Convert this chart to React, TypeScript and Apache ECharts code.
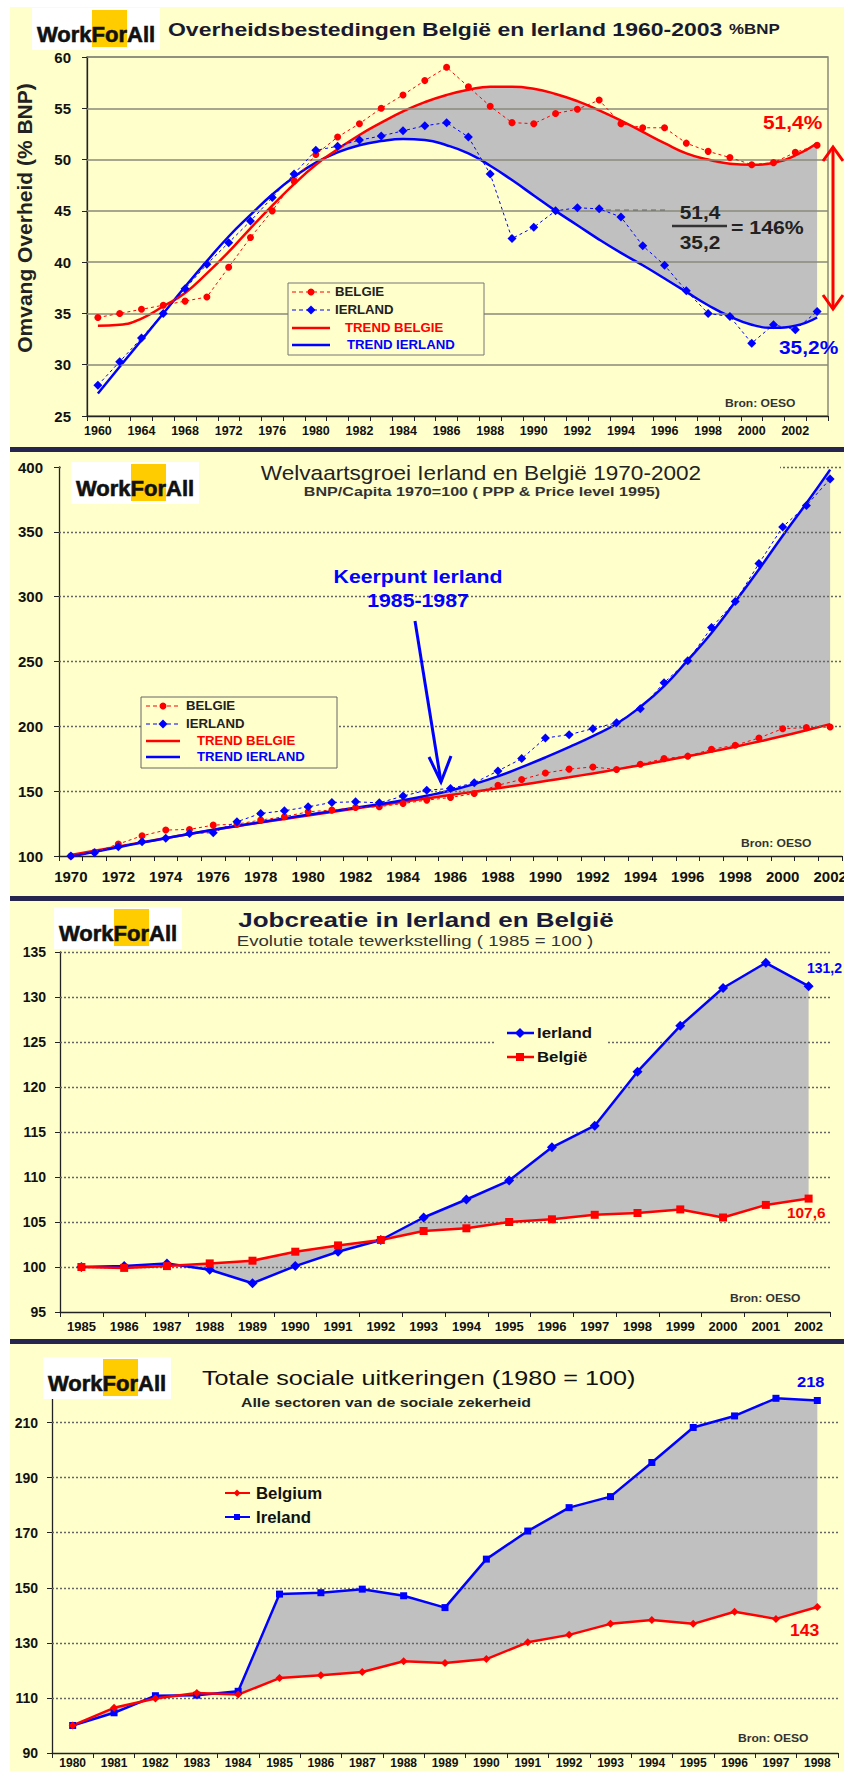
import React, { useEffect, useRef } from 'react';
import * as echarts from 'echarts';

const FONT = '"Liberation Sans", Arial, Helvetica, sans-serif';
const YELLOW = '#FFFFCC';
const GRAY = '#C0C0C0';
const RED = '#FF0000';
const BLUE = '#0000FF';

// ---------- Panel 1: Overheidsbestedingen (% BNP) ----------
const p1Years = ['1960', '1962', '1964', '1966', '1968', '1970', '1972', '1974', '1976', '1978', '1980', '1981', '1982', '1983', '1984', '1985', '1986', '1987', '1988', '1989', '1990', '1991', '1992', '1993', '1994', '1995', '1996', '1997', '1998', '1999', '2000', '2001', '2002', '2003'];
const p1Belgie = [34.6, 35.0, 35.4, 35.8, 36.2, 36.6, 39.5, 42.4, 45.0, 47.9, 50.5, 52.2, 53.5, 55.0, 56.3, 57.7, 59.0, 57.1, 55.2, 53.6, 53.5, 54.5, 54.9, 55.8, 53.5, 53.1, 53.1, 51.6, 50.8, 50.2, 49.5, 49.7, 50.7, 51.4];
const p1Ierland = [28.0, 30.3, 32.6, 35.0, 37.4, 39.8, 41.9, 44.0, 46.3, 48.6, 50.9, 51.3, 51.9, 52.3, 52.8, 53.3, 53.6, 52.2, 48.6, 42.3, 43.4, 45.0, 45.3, 45.2, 44.4, 41.6, 39.7, 37.2, 35.0, 34.7, 32.1, 33.9, 33.4, 35.2];
const p1TrendBelgie = [33.8, 33.9, 34.5, 35.7, 37.0, 38.9, 41.0, 43.3, 45.5, 47.6, 49.5, 51.0, 52.4, 53.6, 54.7, 55.6, 56.3, 56.8, 57.1, 57.1, 56.9, 56.4, 55.7, 54.8, 53.8, 52.7, 51.6, 50.6, 50.0, 49.6, 49.5, 49.7, 50.4, 51.6];
const p1TrendIerland = [27.2, 29.8, 32.4, 35.0, 37.6, 40.1, 42.5, 44.6, 46.6, 48.3, 49.7, 50.7, 51.4, 51.8, 52.0, 51.9, 51.4, 50.6, 49.4, 48.0, 46.5, 45.0, 43.6, 42.2, 40.9, 39.7, 38.4, 37.1, 35.8, 34.7, 33.9, 33.6, 33.8, 34.6];
const p1GridLines = [30, 35, 40, 45, 50, 55, 60];
const p1FillFrom = 10;

// ---------- Panel 2: Welvaartsgroei ----------
const p2Years = ['1970', '1971', '1972', '1973', '1974', '1975', '1976', '1977', '1978', '1979', '1980', '1981', '1982', '1983', '1984', '1985', '1986', '1987', '1988', '1989', '1990', '1991', '1992', '1993', '1994', '1995', '1996', '1997', '1998', '1999', '2000', '2001', '2002'];
const p2Belgie = [100, 103, 109.2, 115.6, 120, 120.5, 123.8, 124.6, 127.7, 130.3, 134.1, 135.4, 137.4, 138, 140.5, 143.1, 145.1, 148.2, 154.6, 159, 164, 167, 168.7, 166.7, 170.8, 175.1, 177, 182.3, 185.4, 191, 198.2, 199, 199.5];
const p2Ierland = [100, 102.6, 107.2, 111, 113.6, 117.4, 118, 126.4, 132.8, 134.9, 137.9, 141.3, 141.8, 141, 146.2, 150.8, 152, 156.4, 165.6, 175.1, 191, 193.6, 198.2, 202.8, 213.6, 233.6, 250.5, 276.2, 296.2, 325.6, 353.8, 370.3, 390.8];
const p2TrendBelgie = [100.8, 104, 107.3, 110.6, 113.8, 117, 120, 123, 125.8, 128.6, 131.3, 134, 136.6, 139.2, 141.8, 144.4, 147, 149.6, 152.3, 155, 157.8, 160.7, 163.7, 166.8, 170, 173.4, 176.9, 180.5, 184.3, 188.3, 192.5, 197, 201.7];
const p2TrendIerland = [99.5, 103.2, 106.8, 110.3, 113.7, 117, 120.2, 123.2, 126.1, 129, 131.8, 134.5, 137.2, 140, 143, 146.5, 150.5, 155.5, 161.5, 168.5, 176, 184, 192.5, 202, 215, 231, 251, 272, 296, 321, 347, 372, 398];
const p2GridLines = [150, 200, 250, 300, 350, 400];
const p2FillFrom = 13;

// ---------- Panel 3: Jobcreatie ----------
const p3Years = ['1985', '1986', '1987', '1988', '1989', '1990', '1991', '1992', '1993', '1994', '1995', '1996', '1997', '1998', '1999', '2000', '2001', '2002'];
const p3Ierland = [100, 100.1, 100.4, 99.7, 98.2, 100.1, 101.7, 103.0, 105.5, 107.5, 109.6, 113.3, 115.7, 121.7, 126.8, 131.0, 133.8, 131.2];
const p3Belgie = [100, 99.9, 100.1, 100.4, 100.7, 101.7, 102.4, 103.0, 104.0, 104.3, 105.0, 105.3, 105.8, 106.0, 106.4, 105.5, 106.9, 107.6];
const p3GridLines = [100, 105, 110, 115, 120, 125, 130, 135];

// ---------- Panel 4: Sociale uitkeringen ----------
const p4Years = ['1980', '1981', '1982', '1983', '1984', '1985', '1986', '1987', '1988', '1989', '1990', '1991', '1992', '1993', '1994', '1995', '1996', '1997', '1998'];
const p4Belgium = [100, 106.4, 109.8, 111.8, 111.2, 117.2, 118.2, 119.4, 123.3, 122.7, 124.1, 130.2, 132.9, 136.9, 138.3, 136.9, 141.3, 138.7, 143];
const p4Ireland = [100, 104.6, 110.8, 111, 112.4, 147.7, 148.2, 149.5, 147.1, 142.8, 160.4, 170.6, 179.1, 183.1, 195.5, 208.2, 212.4, 218.8, 218];
const p4GridLines = [110, 130, 150, 170, 190, 210];

const fmt1 = (v: number) => v.toFixed(1).replace('.', ',');

function txt(x: number, y: number, text: string, size: number, color = '#111', weight = 'bold', align = 'left', sx = 1, extra: any = {}) {
  return {
    type: 'text', x, y, z: 120, silent: true, scaleX: sx,
    style: { text, fill: color, font: `${weight} ${size}px ${FONT}`, textAlign: align, textVerticalAlign: 'middle', align, verticalAlign: 'middle' },
    ...extra,
  };
}
function ln(x1: number, y1: number, x2: number, y2: number, color: string, w: number, dash?: number[]) {
  return { type: 'line', z: 110, silent: true, shape: { x1, y1, x2, y2 }, style: { stroke: color, lineWidth: w, lineDash: dash } };
}
function poly(points: number[][], color: string, w: number) {
  return { type: 'polyline', z: 110, silent: true, shape: { points }, style: { stroke: color, lineWidth: w, fill: 'none' } };
}
function diamond(cx: number, cy: number, r: number, color: string) {
  return { type: 'polygon', z: 112, silent: true, shape: { points: [[cx, cy - r], [cx + r, cy], [cx, cy + r], [cx - r, cy]] }, style: { fill: color } };
}
function dot(cx: number, cy: number, r: number, color: string) {
  return { type: 'circle', z: 112, silent: true, shape: { cx, cy, r }, style: { fill: color } };
}
function square(cx: number, cy: number, r: number, color: string) {
  return { type: 'rect', z: 112, silent: true, shape: { x: cx - r, y: cy - r, width: 2 * r, height: 2 * r }, style: { fill: color } };
}
function rect(x: number, y: number, w: number, h: number, fill: string, stroke?: string, z = 100) {
  return { type: 'rect', z, silent: true, shape: { x, y, width: w, height: h }, style: { fill, stroke: stroke || 'none', lineWidth: 1 } };
}
function logo(x: number, y: number) {
  return [
    rect(x, y, 128, 42, '#FFFFFF', undefined, 101),
    rect(x + 60, y + 2, 35, 37, '#FFCC00', undefined, 102),
    { type: 'text', x: x + 5, y: y + 26, z: 103, silent: true, style: { text: 'WorkForAll', fill: '#111', stroke: '#111', lineWidth: 0.6, font: `bold 22px ${FONT}`, textAlign: 'left', textVerticalAlign: 'middle', align: 'left', verticalAlign: 'middle' } },
  ];
}

function xCat(idx: number, data: string[], size: number, labelInterval: number, margin: number) {
  return {
    type: 'category', gridIndex: idx, data, boundaryGap: true,
    axisLine: { show: true, lineStyle: { color: '#222', width: 1.3 } },
    axisTick: { show: true, interval: 0, length: 5, lineStyle: { color: '#222', width: 1 } },
    axisLabel: { interval: labelInterval, color: '#111', fontWeight: 'bold', fontSize: size, fontFamily: FONT, margin },
    splitLine: { show: false },
  };
}
function yVal(idx: number, min: number, max: number, interval: number, size: number, margin: number, extra: any = {}) {
  return {
    type: 'value', gridIndex: idx, min, max, interval,
    axisLine: { show: true, lineStyle: { color: '#222', width: 1.3 } },
    axisTick: { show: true, length: 5, lineStyle: { color: '#222' } },
    axisLabel: { color: '#111', fontWeight: 'bold', fontSize: size, fontFamily: FONT, margin, ...extra },
    splitLine: { show: false },
  };
}
function gridLineSeries(idx: number, vals: number[], n: number, dotted: boolean) {
  return {
    type: 'line', xAxisIndex: idx, yAxisIndex: idx, data: new Array(n).fill('-'), silent: true, z: 3, symbol: 'none',
    markLine: {
      silent: true, symbol: ['none', 'none'], label: { show: false }, animation: false,
      lineStyle: dotted ? { color: '#666', width: 1.3, type: [2, 2] } : { color: '#8a8a7a', width: 1.5, type: 'solid' },
      emphasis: { disabled: true },
      data: vals.map((v) => ({ yAxis: v })),
    },
  };
}
function fillBetween(idx: number, a: number[], b: number[]) {
  return {
    type: 'custom', xAxisIndex: idx, yAxisIndex: idx, silent: true, z: 1, clip: true,
    data: [[0, a[0]]],
    renderItem: (_p: any, api: any) => {
      const pts: number[][] = [];
      for (let i = 0; i < a.length; i++) pts.push(api.coord([i, a[i]]));
      for (let i = b.length - 1; i >= 0; i--) pts.push(api.coord([i, b[i]]));
      return { type: 'polygon', shape: { points: pts }, style: { fill: GRAY } };
    },
  };
}
function trend(idx: number, data: any[], color: string, stack?: string) {
  return { type: 'line', xAxisIndex: idx, yAxisIndex: idx, data, smooth: true, symbol: 'none', stack, lineStyle: { color, width: 2.5 }, z: 4, silent: true };
}
function diffArea(idx: number, top: number[], base: number[], from: number, stack: string) {
  const d = top.map((v, i) => (i < from ? '-' : Math.max(0, +(v - base[i]).toFixed(2))));
  return { type: 'line', xAxisIndex: idx, yAxisIndex: idx, data: d, smooth: true, symbol: 'none', stack, lineStyle: { width: 0, opacity: 0 }, areaStyle: { color: GRAY, opacity: 1 }, z: 1, silent: true };
}
function points(idx: number, name: string, data: number[], color: string, symbol: string, size: number, lineW: number, dash: any) {
  return {
    type: 'line', name, xAxisIndex: idx, yAxisIndex: idx, data, symbol, symbolSize: size, showAllSymbol: true,
    itemStyle: { color, borderWidth: 0 }, lineStyle: { color, width: lineW, type: dash }, z: 5, silent: true,
  };
}

function buildOption() {
  const graphic: any[] = [];
  // separators
  graphic.push(rect(10, 447, 834, 5, '#25254f', undefined, 130));
  graphic.push(rect(10, 896, 834, 5, '#25254f', undefined, 130));
  graphic.push(rect(10, 1339, 834, 5, '#25254f', undefined, 130));

  // ----- Panel 1 -----
  graphic.push(...logo(32, 8));
  graphic.push({
    type: 'text', x: 168, y: 29, z: 120, silent: true, scaleX: 1.21,
    style: {
      text: '{a|Overheidsbestedingen België en Ierland 1960-2003 }{b|%BNP}',
      fill: '#1a1a2e', textVerticalAlign: 'middle', verticalAlign: 'middle', textAlign: 'left', align: 'left',
      rich: { a: { font: `bold 19px ${FONT}`, fill: '#1a1a2e' }, b: { font: `bold 14px ${FONT}`, fill: '#1a1a2e' } },
    },
  });
  graphic.push(txt(24, 218, 'Omvang Overheid (% BNP)', 21, '#222', 'bold', 'center', 1, { rotation: Math.PI / 2 }));
  graphic.push(rect(288, 283, 196, 72, YELLOW, '#777', 60));
  graphic.push(ln(292, 292, 330, 292, RED, 1, [4, 3]), dot(311, 292, 3.5, RED), txt(335, 292, 'BELGIE', 12, '#222', 'bold', 'left', 1.1));
  graphic.push(ln(292, 310, 330, 310, BLUE, 1, [4, 3]), diamond(311, 310, 4.5, BLUE), txt(335, 310, 'IERLAND', 12, '#222', 'bold', 'left', 1.1));
  graphic.push(ln(292, 328, 330, 328, RED, 2.5), txt(345, 328, 'TREND BELGIE', 12, RED, 'bold', 'left', 1.1));
  graphic.push(ln(292, 345, 330, 345, BLUE, 2.5), txt(347, 345, 'TREND IERLAND', 12, BLUE, 'bold', 'left', 1.1));
  const b1 = p1Belgie[p1Belgie.length - 1];
  const i1 = p1Ierland[p1Ierland.length - 1];
  graphic.push(txt(763, 122, fmt1(b1) + '%', 19, RED, 'bold', 'left', 1.1));
  graphic.push(txt(779, 347, fmt1(i1) + '%', 19, BLUE, 'bold', 'left', 1.1));
  graphic.push(txt(700, 212, fmt1(b1), 19, '#222', 'bold', 'center', 1.1));
  graphic.push(ln(672, 226, 727, 226, '#333', 2.5));
  graphic.push(txt(700, 242, fmt1(i1), 19, '#222', 'bold', 'center', 1.1));
  graphic.push(txt(731, 227, '= ' + Math.round((b1 / i1) * 100) + '%', 19, '#222', 'bold', 'left', 1.12));
  graphic.push(ln(606, 210, 668, 210, '#666', 1, [5, 4]));
  graphic.push(ln(833, 147, 833, 309, RED, 3), poly([[823, 161], [833, 147], [843, 161]], RED, 3), poly([[823, 295], [833, 309], [843, 295]], RED, 3));
  graphic.push(txt(725, 403, 'Bron: OESO', 11, '#333', 'bold', 'left', 1.1));

  // ----- Panel 2 -----
  graphic.push(rect(62, 461, 718, 12, YELLOW, undefined, 60));
  graphic.push(...logo(71, 462));
  graphic.push(txt(481, 473, 'Welvaartsgroei Ierland en België 1970-2002', 20, '#222', 'normal', 'center', 1.13));
  graphic.push(txt(482, 492, 'BNP/Capita 1970=100 ( PPP & Price level 1995)', 13, '#333', 'bold', 'center', 1.24));
  graphic.push(txt(418, 576, 'Keerpunt Ierland', 19, BLUE, 'bold', 'center', 1.12));
  graphic.push(txt(418, 600, '1985-1987', 19, BLUE, 'bold', 'center', 1.12));
  graphic.push(ln(415, 621, 441, 782, BLUE, 3), poly([[429, 757], [441, 782], [451, 756]], BLUE, 3));
  graphic.push(rect(141, 697, 196, 71, YELLOW, '#666', 60));
  graphic.push(ln(146, 706, 180, 706, RED, 1, [4, 3]), dot(163, 706, 3.5, RED), txt(186, 706, 'BELGIE', 12, '#222', 'bold', 'left', 1.1));
  graphic.push(ln(146, 724, 180, 724, BLUE, 1, [4, 3]), diamond(163, 724, 4.5, BLUE), txt(186, 724, 'IERLAND', 12, '#222', 'bold', 'left', 1.1));
  graphic.push(ln(146, 741, 180, 741, RED, 2.5), txt(197, 741, 'TREND BELGIE', 12, RED, 'bold', 'left', 1.1));
  graphic.push(ln(146, 757, 180, 757, BLUE, 2.5), txt(197, 757, 'TREND IERLAND', 12, BLUE, 'bold', 'left', 1.1));
  graphic.push(txt(741, 843, 'Bron: OESO', 11, '#333', 'bold', 'left', 1.1));

  // ----- Panel 3 -----
  graphic.push(...logo(54, 907));
  graphic.push(txt(426, 920, 'Jobcreatie in Ierland en België', 20, '#1a1a3a', 'bold', 'center', 1.3));
  graphic.push(txt(415, 941, 'Evolutie totale tewerkstelling ( 1985 = 100 )', 14, '#333', 'normal', 'center', 1.33));
  graphic.push(rect(496, 1019, 110, 50, YELLOW, undefined, 60));
  graphic.push(ln(507, 1033, 534, 1033, BLUE, 2.5), diamond(520, 1033, 5, BLUE), txt(537, 1033, 'Ierland', 15, '#111', 'bold', 'left', 1.12));
  graphic.push(ln(507, 1057, 534, 1057, RED, 2.5), square(520, 1057, 4, RED), txt(537, 1057, 'België', 15, '#111', 'bold', 'left', 1.12));
  graphic.push(txt(807, 968, fmt1(p3Ierland[p3Ierland.length - 1]), 14, BLUE));
  graphic.push(txt(787, 1213, fmt1(p3Belgie[p3Belgie.length - 1]), 14, RED, 'bold', 'left', 1.1));
  graphic.push(txt(730, 1298, 'Bron: OESO', 11, '#333', 'bold', 'left', 1.1));

  // ----- Panel 4 -----
  graphic.push(...logo(43, 1357));
  graphic.push(txt(202, 1378, 'Totale sociale uitkeringen (1980 = 100)', 20, '#111', 'normal', 'left', 1.26));
  graphic.push(txt(386, 1403, 'Alle sectoren van de sociale zekerheid', 13, '#222', 'bold', 'center', 1.22));
  graphic.push(ln(225, 1493, 250, 1493, RED, 2), diamond(237, 1493, 3.5, RED), txt(256, 1493, 'Belgium', 16, '#111', 'bold', 'left', 1.05));
  graphic.push(ln(225, 1517, 250, 1517, BLUE, 2), square(237, 1517, 3, BLUE), txt(256, 1517, 'Ireland', 16, '#111', 'bold', 'left', 1.05));
  graphic.push(txt(797, 1382, String(Math.round(p4Ireland[p4Ireland.length - 1])), 15, BLUE, 'bold', 'left', 1.1));
  graphic.push(txt(790, 1631, String(Math.round(p4Belgium[p4Belgium.length - 1])), 16, RED, 'bold', 'left', 1.1));
  graphic.push(txt(738, 1738, 'Bron: OESO', 11, '#333', 'bold', 'left', 1.1));

  const gridBase = { containLabel: false, outerBoundsMode: 'none', backgroundColor: 'transparent' };

  return {
    animation: false,
    backgroundColor: 'transparent',
    grid: [
      { ...gridBase, left: 87, top: 57, width: 741, height: 359, show: true, borderColor: '#8a8a7a', borderWidth: 1.5 },
      { ...gridBase, left: 59, top: 467, width: 783, height: 389 },
      { ...gridBase, left: 60, top: 952, width: 770, height: 360 },
      { ...gridBase, left: 52, top: 1395, width: 786, height: 358 },
    ],
    xAxis: [
      xCat(0, p1Years, 12.5, 1, 8),
      xCat(1, p2Years, 15, 1, 13),
      xCat(2, p3Years, 13, 0, 8),
      xCat(3, p4Years, 12, 0, 4),
    ],
    yAxis: [
      yVal(0, 25, 60, 5, 15, 16),
      yVal(1, 100, 400, 50, 15, 16),
      yVal(2, 95, 135, 5, 14, 14),
      yVal(3, 90, 220, 20, 14, 14, { showMaxLabel: false }),
    ],
    series: [
      // panel 1
      gridLineSeries(0, p1GridLines, p1Years.length, false),
      trend(0, p1TrendIerland, BLUE, 'p1'),
      diffArea(0, p1TrendBelgie, p1TrendIerland, p1FillFrom, 'p1'),
      trend(0, p1TrendBelgie, RED),
      points(0, 'BELGIE', p1Belgie, RED, 'circle', 7, 1, [3, 3]),
      points(0, 'IERLAND', p1Ierland, BLUE, 'diamond', 9, 1, [3, 3]),
      // panel 2
      gridLineSeries(1, p2GridLines, p2Years.length, true),
      trend(1, p2TrendBelgie, RED, 'p2'),
      diffArea(1, p2TrendIerland, p2TrendBelgie, p2FillFrom, 'p2'),
      trend(1, p2TrendIerland, BLUE),
      points(1, 'BELGIE', p2Belgie, RED, 'circle', 7, 1, [3, 3]),
      points(1, 'IERLAND', p2Ierland, BLUE, 'diamond', 9, 1, [3, 3]),
      // panel 3
      fillBetween(2, p3Ierland, p3Belgie),
      gridLineSeries(2, p3GridLines, p3Years.length, true),
      points(2, 'Ierland', p3Ierland, BLUE, 'diamond', 10, 2.5, 'solid'),
      points(2, 'België', p3Belgie, RED, 'rect', 8, 2.5, 'solid'),
      // panel 4
      fillBetween(3, p4Ireland, p4Belgium),
      gridLineSeries(3, p4GridLines, p4Years.length, true),
      points(3, 'Ireland', p4Ireland, BLUE, 'rect', 7, 2.5, 'solid'),
      points(3, 'Belgium', p4Belgium, RED, 'diamond', 8, 2.5, 'solid'),
    ],
    graphic: { elements: graphic },
  };
}

export default function App() {
  const ref = useRef<HTMLDivElement>(null);
  useEffect(() => {
    document.body.style.margin = '0';
    const chart = echarts.init(ref.current as HTMLDivElement, undefined, { renderer: 'svg' });
    chart.setOption(buildOption() as any);
    return () => chart.dispose();
  }, []);
  return (
    <div style={{ position: 'absolute', left: 0, top: 0, width: 844, height: 1771, background: '#ffffff', overflow: 'hidden' }}>
      <div style={{ position: 'absolute', left: 10, top: 7, width: 834, height: 1764, background: YELLOW }} />
      <div ref={ref} style={{ position: 'absolute', left: 0, top: 0, width: 844, height: 1771 }} />
    </div>
  );
}
